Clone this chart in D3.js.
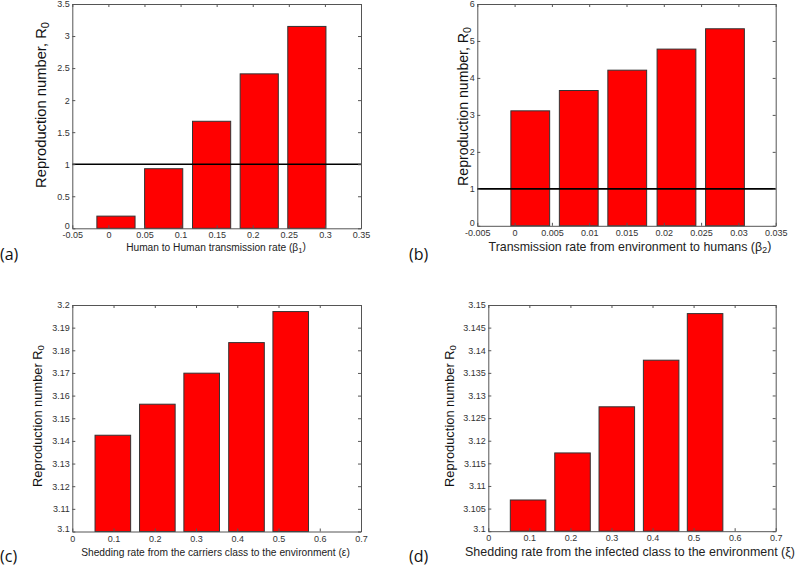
<!DOCTYPE html>
<html><head><meta charset="utf-8">
<script src="https://cdn.jsdelivr.net/npm/d3@7"></script>
<style>body{margin:0;background:#fff}svg{display:block}</style>
</head><body>
<svg id="chart" width="796" height="566"></svg>
<script>
// ---- data ----
const aX = [0.0105, 0.0766, 0.1430, 0.2090, 0.2750];
const aR0 = [0.19, 0.93, 1.67, 2.41, 3.15];
const aXTicks = [-0.05, 0, 0.05, 0.1, 0.15, 0.2, 0.25, 0.3, 0.35];
const aXTickLabels = ["-0.05","0","0.05","0.1","0.15","0.2","0.25","0.3","0.35"];
const aYTicks = [0, 0.5, 1, 1.5, 2, 2.5, 3, 3.5];
const aYTickLabels = ["0","0.5","1","1.5","2","2.5","3","3.5"];

const bX = [0.0021, 0.0086, 0.0151, 0.0217, 0.0282];
const bR0 = [3.11, 3.66, 4.21, 4.78, 5.33];
const bXTicks = [-0.005, 0, 0.005, 0.01, 0.015, 0.02, 0.025, 0.03, 0.035];
const bXTickLabels = ["-0.005","0","0.005","0.01","0.015","0.02","0.025","0.03","0.035"];
const bYTicks = [0, 1, 2, 3, 4, 5, 6];
const bYTickLabels = ["0","1","2","3","4","5","6"];

const cX = [0.0983, 0.2062, 0.3137, 0.4224, 0.5296];
const cR0 = [3.1425, 3.1562, 3.1699, 3.1834, 3.1971];
const cXTicks = [0, 0.1, 0.2, 0.3, 0.4, 0.5, 0.6, 0.7];
const cXTickLabels = ["0","0.1","0.2","0.3","0.4","0.5","0.6","0.7"];
const cYTicks = [3.1, 3.11, 3.12, 3.13, 3.14, 3.15, 3.16, 3.17, 3.18, 3.19, 3.2];
const cYTickLabels = ["3.1","3.11","3.12","3.13","3.14","3.15","3.16","3.17","3.18","3.19","3.2"];

const dX = [0.0969, 0.2051, 0.3130, 0.4210, 0.5280];
const dR0 = [3.1069, 3.1173, 3.1275, 3.1378, 3.1481];
const dXTicks = [0, 0.1, 0.2, 0.3, 0.4, 0.5, 0.6, 0.7];
const dXTickLabels = ["0","0.1","0.2","0.3","0.4","0.5","0.6","0.7"];
const dYTicks = [3.1, 3.105, 3.11, 3.115, 3.12, 3.125, 3.13, 3.135, 3.14, 3.145, 3.15];
const dYTickLabels = ["3.1","3.105","3.11","3.115","3.12","3.125","3.13","3.135","3.14","3.145","3.15"];

const threshold = 1;

// ---- layout ----
const panels = [
  {x:aX, y:aR0, xt:aXTicks, xl:aXTickLabels, yt:aYTicks, yl:aYTickLabels, threshold:true,
   box:[72.3, 361, 4, 228.3], tag:"(a)", tagPos:[0, 260],
   ylab:["Reproduction number, R","0"], ylabPos:[46, 105], ylabLen:166,
   xlab:["Human to Human transmission rate (β","1",")"], xlabPos:[216, 250.7], xlabLen:180},
  {x:bX, y:bR0, xt:bXTicks, xl:bXTickLabels, yt:bYTicks, yl:bYTickLabels, threshold:true,
   box:[477.3, 775.7, 4, 225.8], tag:"(b)", tagPos:[409, 260],
   ylab:["Reproduction number, R","0"], ylabPos:[468, 106.5], ylabLen:159,
   xlab:["Transmission rate from environment to humans (β","2",")"], xlabPos:[630, 250.7], xlabLen:283},
  {x:cX, y:cR0, xt:cXTicks, xl:cXTickLabels, yt:cYTicks, yl:cYTickLabels, threshold:false,
   box:[72.3, 361, 305, 531.5], tag:"(c)", tagPos:[0, 561.5],
   ylab:["Reproduction number R","0"], ylabPos:[41.5, 416], ylabLen:142,
   xlab:["Shedding rate from the carriers class to the environment (ε)","",""], xlabPos:[215.5, 556], xlabLen:269},
  {x:dX, y:dR0, xt:dXTicks, xl:dXTickLabels, yt:dYTicks, yl:dYTickLabels, threshold:false,
   box:[488.3, 775.7, 305, 531.2], tag:"(d)", tagPos:[409, 561.5],
   ylab:["Reproduction number R","0"], ylabPos:[453.5, 416], ylabLen:142,
   xlab:["Shedding rate from the infected class to the environment (ξ)","",""], xlabPos:[630, 556], xlabLen:330}
];

const svg = d3.select("#chart");
const font = "Liberation Sans, Arial, Helvetica, sans-serif";
const axisCol = "#555";

function fit(sel, target, base) {
  const len = sel.node().getComputedTextLength();
  sel.style("font-size", (base * target / len) + "px");
}

panels.forEach(p => {
  const [L, R, T, B] = p.box;
  const xs = d3.scaleLinear().domain([p.xt[0], p.xt[p.xt.length-1]]).range([L, R]);
  const ys = d3.scaleLinear().domain([p.yt[0], p.yt[p.yt.length-1]]).range([B, T]);
  const g = svg.append("g");
  const bw = 0.8 * (p.x[1] - p.x[0]);

  g.selectAll("rect.bar").data(p.x.map((v,i)=>({x:v, y:p.y[i]}))).enter()
    .append("rect").attr("class","bar")
    .attr("x", d => xs(d.x - bw/2))
    .attr("width", d => xs(d.x + bw/2) - xs(d.x - bw/2))
    .attr("y", d => ys(d.y))
    .attr("height", d => ys(p.yt[0]) - ys(d.y))
    .attr("fill", "#ff0000").attr("stroke", "#333").attr("stroke-width", 1);

  if (p.threshold) {
    g.append("line").attr("x1", L).attr("x2", R)
      .attr("y1", ys(threshold)).attr("y2", ys(threshold))
      .attr("stroke", "#000").attr("stroke-width", 1.6);
  }

  const fmtX = (d,i) => p.xl[i];
  const fmtY = (d,i) => p.yl[i];
  const xAxB = g.append("g").attr("transform", `translate(0,${B})`)
    .call(d3.axisBottom(xs).tickValues(p.xt).tickFormat(fmtX).tickSizeInner(-3).tickSizeOuter(0).tickPadding(3));
  const xAxT = g.append("g").attr("transform", `translate(0,${T})`)
    .call(d3.axisTop(xs).tickValues(p.xt).tickFormat("").tickSizeInner(-3).tickSizeOuter(0));
  const yAxL = g.append("g").attr("transform", `translate(${L},0)`)
    .call(d3.axisLeft(ys).tickValues(p.yt).tickFormat(fmtY).tickSizeInner(-3).tickSizeOuter(0).tickPadding(2.5));
  const yAxR = g.append("g").attr("transform", `translate(${R},0)`)
    .call(d3.axisRight(ys).tickValues(p.yt).tickFormat("").tickSizeInner(-3).tickSizeOuter(0));
  [xAxB, xAxT, yAxL, yAxR].forEach(a => {
    a.selectAll("path.domain").attr("stroke", axisCol);
    a.selectAll(".tick line").attr("stroke", axisCol);
    a.selectAll(".tick text").attr("fill", "#333").style("font-family", font).style("font-size", "9px");
  });
  xAxB.selectAll(".tick text").attr("y", 10).attr("dy", 0);
  // lowest y tick label sits a little higher, as in the reference
  yAxL.selectAll(".tick text").filter((d,i) => i === 0).attr("y", -3);

  // y label
  const yl = g.append("text")
    .attr("transform", `translate(${p.ylabPos[0]},${p.ylabPos[1]}) rotate(-90)`)
    .attr("text-anchor", "middle").attr("fill", "#111")
    .style("font-family", font).style("font-size", "13px");
  yl.append("tspan").text(p.ylab[0]);
  yl.append("tspan").attr("dy", "0.3em").style("font-size", "0.75em").text(p.ylab[1]);
  fit(yl, p.ylabLen, 13);

  // x label
  const xlab = g.append("text")
    .attr("x", p.xlabPos[0]).attr("y", p.xlabPos[1])
    .attr("text-anchor", "middle").attr("fill", "#222")
    .style("font-family", font).style("font-size", "12px");
  xlab.append("tspan").text(p.xlab[0]);
  if (p.xlab[1]) {
    xlab.append("tspan").attr("dy", "0.3em").style("font-size", "0.75em").text(p.xlab[1]);
    xlab.append("tspan").attr("dy", "-0.3em").text(p.xlab[2]);
  }
  fit(xlab, p.xlabLen, 12);

  g.append("text").attr("x", p.tagPos[0]).attr("y", p.tagPos[1])
    .attr("fill", "#111").style("font-family", "Open Sans, sans-serif").style("font-size", "16px")
    .text(p.tag);
});
</script>
</body></html>
